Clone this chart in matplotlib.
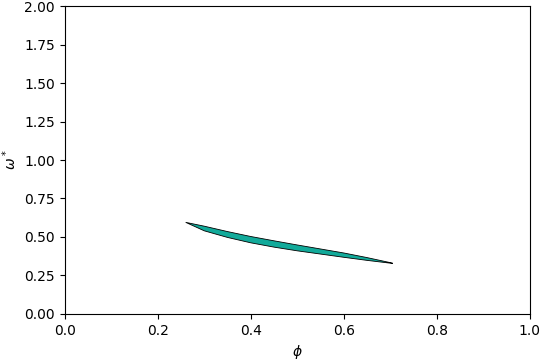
import matplotlib
matplotlib.use("Agg")
import matplotlib.pyplot as plt
import numpy as np

# region boundary (phi, omega*)
phi = [0.26, 0.30, 0.35, 0.40, 0.45, 0.50, 0.55, 0.60, 0.65, 0.705]
omega_upper = [0.595, 0.570, 0.535, 0.503, 0.475, 0.448, 0.422, 0.396, 0.366, 0.330]
omega_lower = [0.595, 0.540, 0.497, 0.462, 0.434, 0.410, 0.389, 0.368, 0.348, 0.328]

fig, ax = plt.subplots(figsize=(5.4, 3.6), dpi=100)
fig.subplots_adjust(left=0.12, right=0.981, top=0.983, bottom=0.128)

xs = np.concatenate([phi, phi[::-1]])
ys = np.concatenate([omega_upper, omega_lower[::-1]])
ax.fill(xs, ys, facecolor="#12aa9a", edgecolor="black", linewidth=0.6)

ax.set_xlim(0, 1)
ax.set_ylim(0, 2)
ax.set_xlabel(r"$\phi$")
ax.set_ylabel(r"$\omega^*$")

fig.savefig("out.png")
